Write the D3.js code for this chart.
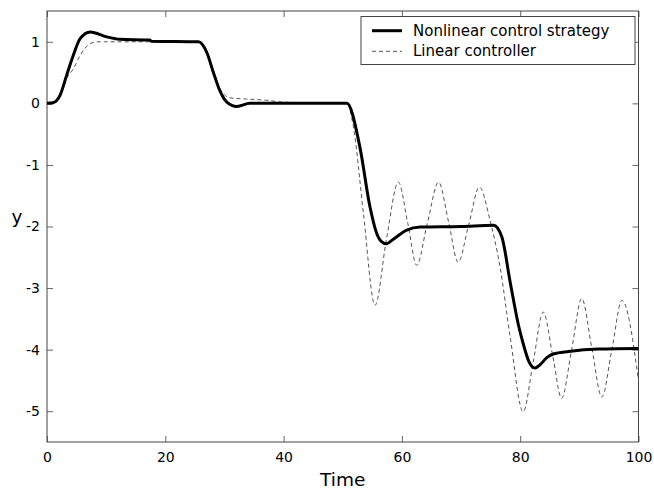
<!DOCTYPE html>
<html>
<head>
<meta charset="utf-8">
<script src="https://cdn.jsdelivr.net/npm/d3@7"></script>
<style>
  body { margin: 0; background: #fff; }
  svg text { font-family: "DejaVu Sans", "Liberation Sans", Arial, sans-serif; fill: #000; }
</style>
</head>
<body>
<script>
// ---- data ----
var nlTime = [0, 1, 2.2, 3.3, 4.45, 5.6, 7.3, 10.1, 12.3, 17.4, 17.6, 25.6, 27.0, 28.1, 29.2, 30.4, 32.1, 34.3,
              50.7, 52.9, 54.6, 55.7, 56.5, 57.4, 58.5, 60.8, 63.1, 70, 75.5, 76.9, 78.3, 79.7, 80.5, 81.5, 82.5,
              83.3, 84.5, 85.6, 88.2, 93.3, 100];
var nlY    = [0, 0.01, 0.13, 0.45, 0.78, 1.05, 1.16, 1.08, 1.04, 1.03, 1.01, 1.0, 0.83, 0.51, 0.21, 0.02, -0.05, 0.0,
              0.0, -0.71, -1.68, -2.1, -2.24, -2.28, -2.21, -2.06, -2.01, -2.0, -1.98, -2.17, -2.9, -3.6, -3.9, -4.2, -4.3,
              -4.25, -4.13, -4.07, -4.03, -3.99, -3.98];

var linTime = [0, 1, 2.2, 3.3, 4.45, 5.6, 7.3, 8.5, 10, 17.5, 25.6, 27, 28.1, 29.2, 30.9, 33.7, 37.1, 40,
               50.7, 51.8, 53.5, 55.45, 57.4, 59.4, 61, 62.5, 64.3, 66.2, 67.9, 69.5, 71.3, 73.1, 74.9, 76.6, 78.3,
               80.5, 82.2, 83.9, 85.5, 87.0, 88.7, 90.4, 92.1, 93.8, 95.5, 97.2, 100];
var linY    = [0, 0.01, 0.12, 0.4, 0.56, 0.78, 0.97, 1.0, 1.0, 1.0, 1.0, 0.85, 0.55, 0.25, 0.09, 0.07, 0.05, 0.02,
               0.0, -0.38, -1.79, -3.28, -2.2, -1.28, -1.95, -2.63, -1.95, -1.28, -1.93, -2.58, -1.97, -1.36, -1.9, -2.66, -3.79,
               -5.01, -4.2, -3.39, -4.1, -4.79, -4.0, -3.17, -3.97, -4.77, -4.0, -3.2, -4.5];

var xTicks = [0, 20, 40, 60, 80, 100];
var yTicks = [1, 0, -1, -2, -3, -4, -5];
var legendLabels = ["Nonlinear control strategy", "Linear controller"];

// ---- layout ----
var width_outer = 654, height_outer = 489;
var margin = {top: 11, right: 15.5, bottom: 47, left: 47};
var width = width_outer - margin.left - margin.right;
var height = height_outer - margin.top - margin.bottom;
var tickLen = 6;

var svg = d3.select("body").append("svg")
  .attr("width", width_outer)
  .attr("height", height_outer);

var g = svg.append("g")
  .attr("transform", "translate(" + margin.left + "," + margin.top + ")");

var x = d3.scaleLinear().domain([0, 100]).range([0, width]);
var y = d3.scaleLinear().domain([-5.5, 1.5]).range([height, 0]);

// axes (MATLAB style: inward ticks, mirrored on all sides)
function styleAxis(sel) {
  sel.select(".domain").remove();
  sel.selectAll(".tick line").attr("stroke", "#666");
  sel.selectAll(".tick text").style("font-size", "14px").attr("fill", "#000");
}

g.append("g")
  .attr("transform", "translate(0," + height + ")")
  .call(d3.axisBottom(x).tickValues(xTicks).tickSizeInner(-tickLen).tickSizeOuter(0).tickPadding(10))
  .call(styleAxis);

g.append("g")
  .call(d3.axisTop(x).tickValues(xTicks).tickSizeInner(-tickLen).tickSizeOuter(0).tickFormat(""))
  .call(styleAxis);

g.append("g")
  .call(d3.axisLeft(y).tickValues(yTicks).tickSizeInner(-tickLen).tickSizeOuter(0).tickPadding(7)
    .tickFormat(function(d) { return d < 0 ? "-" + Math.abs(d) : d; }))
  .call(styleAxis);

g.append("g")
  .attr("transform", "translate(" + width + ",0)")
  .call(d3.axisRight(y).tickValues(yTicks).tickSizeInner(-tickLen).tickSizeOuter(0).tickFormat(""))
  .call(styleAxis);

// box
g.append("rect")
  .attr("width", width)
  .attr("height", height)
  .attr("fill", "none")
  .attr("stroke", "#444")
  .attr("stroke-width", 1);

// axis labels
svg.append("text")
  .attr("x", margin.left + width / 2)
  .attr("y", 486)
  .attr("text-anchor", "middle")
  .style("font-size", "18.5px")
  .text("Time");

svg.append("text")
  .attr("x", 17)
  .attr("y", 223)
  .attr("text-anchor", "middle")
  .style("font-size", "18.5px")
  .text("y");

// lines
var line = d3.line()
  .x(function(d) { return x(d.x); })
  .y(function(d) { return y(d.y); })
  .curve(d3.curveMonotoneX);

var linData = linTime.map(function(t, i) { return {x: t, y: linY[i]}; });
var nlData = nlTime.map(function(t, i) { return {x: t, y: nlY[i]}; });

g.append("path")
  .datum(linData)
  .attr("d", line)
  .attr("fill", "none")
  .attr("stroke", "#555")
  .attr("stroke-width", 1)
  .attr("stroke-dasharray", "4,3");

g.append("path")
  .datum(nlData)
  .attr("d", line)
  .attr("fill", "none")
  .attr("stroke", "#000")
  .attr("stroke-width", 3)
  .attr("stroke-linejoin", "round");

// legend
var legend = svg.append("g");
legend.append("rect")
  .attr("x", 361)
  .attr("y", 16.5)
  .attr("width", 274)
  .attr("height", 48)
  .attr("fill", "#fff")
  .attr("stroke", "#444");

var rowsY = [30.7, 51.3];
legendLabels.forEach(function(lbl, i) {
  legend.append("line")
    .attr("x1", 372).attr("x2", 402)
    .attr("y1", rowsY[i]).attr("y2", rowsY[i])
    .attr("stroke", i == 0 ? "#000" : "#555")
    .attr("stroke-width", i == 0 ? 3 : 1)
    .attr("stroke-dasharray", i == 0 ? null : "4,3");
  legend.append("text")
    .attr("x", 413)
    .attr("y", rowsY[i] + 5)
    .style("font-size", "15px")
    .text(lbl);
});
</script>
</body>
</html>
